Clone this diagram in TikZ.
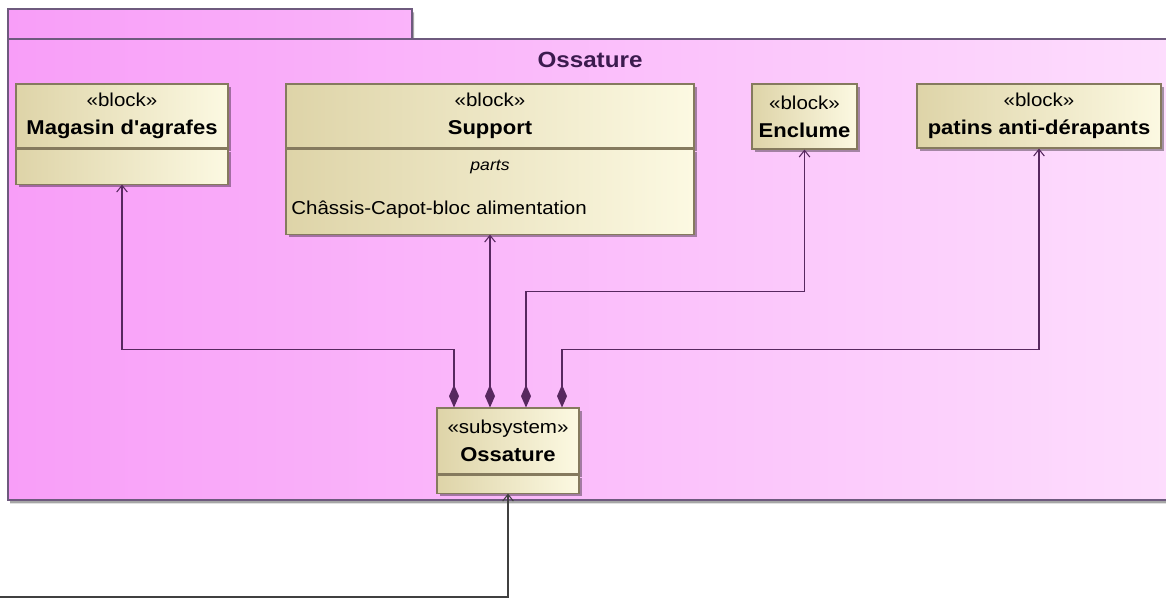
\documentclass[tikz,border=0pt]{standalone}
\usepackage{fontspec}
\setmainfont{Liberation Sans}[FakeStretch=1.1, Ligatures=TeXOff]
\usetikzlibrary{arrows.meta, shapes, positioning, shadows, calc}
\definecolor{pinkL}{HTML}{F89EF8}
\definecolor{pinkR}{HTML}{FDDDFD}
\definecolor{pkgline}{HTML}{6E5A7E}
\definecolor{blockL}{HTML}{DED4A8}
\definecolor{blockR}{HTML}{FCF9E2}
\definecolor{blockline}{HTML}{857A5E}
\definecolor{linkpurple}{HTML}{57285F}
\definecolor{titlepurple}{HTML}{3B1B4E}
\newcommand{\blockname}[1]{{\bfseries\fontsize{15}{21}\selectfont #1}}

\begin{document}
\begin{tikzpicture}[x=0.75pt, y=-0.75pt,
	blockhead/.style={shape=rectangle, draw=blockline, line width=0.8pt,
		left color=blockL, right color=blockR, align=center, inner sep=0pt,
		minimum height=48pt, font=\fontsize{14}{21}\selectfont,
		drop shadow={shadow xshift=2.5pt, shadow yshift=-2.5pt, opacity=0.35, fill=black}},
	blockpart/.style={shape=rectangle, draw=blockline, line width=0.8pt,
		left color=blockL, right color=blockR, inner sep=0pt,
		drop shadow={shadow xshift=2.5pt, shadow yshift=-2.5pt, opacity=0.35, fill=black}},
	comp/.style={draw=linkpurple, line width=1.4pt,
		{Diamond[length=17pt,width=7.5pt]}-{Straight Barb[length=5pt,width=8pt,line width=0.8pt]}},
	dep/.style={draw=black!75, line width=1pt, -{Straight Barb[length=5pt,width=8pt,line width=0.8pt]}}]

	\useasboundingbox (0,0) rectangle (1166,599);

	\path[draw=pkgline, line width=1.2pt, left color=pinkL, right color=pinkR,
		drop shadow={shadow xshift=1.5pt, shadow yshift=-2.5pt, opacity=0.35, fill=black}]
		(8,9) -- (412,9) -- (412,39) -- (1168,39) -- (1168,500) -- (8,500) -- cycle;
	\draw[pkgline, line width=1.2pt] (8,39) -- (412,39);
	\node[font=\bfseries\fontsize{16.5}{20}\selectfont, text=titlepurple] (pkgTitle) at (590,60) {Ossature};

	\node[blockhead, minimum width=159pt] (mag) at (122,116) {«block»\\\blockname{Magasin d'agrafes}};
	\node[blockpart, minimum width=159pt, minimum height=26.25pt, below=0pt of mag] (magP) {};

	\node[blockhead, minimum width=306pt] (sup) at (490,116) {«block»\\\blockname{Support}};
	\node[blockpart, minimum width=306pt, minimum height=63.75pt, below=0pt of sup] (supP) {};
	\node[font=\itshape\fontsize{12}{14}\selectfont] (supTitle) at (490,167) {parts};
	\node[anchor=west, inner sep=0pt, font=\fontsize{14}{16}\selectfont] (supItem) at (291,210) {Châssis-Capot-bloc alimentation};

	\node[blockhead, minimum width=78.75pt, minimum height=48.75pt] (enc) at (804.5,116.5) {«block»\\\blockname{Enclume}};

	\node[blockhead, minimum width=183pt] (pat) at (1039,116) {«block»\\\blockname{patins anti-dérapants}};

	\node[blockhead, minimum width=106.5pt, minimum height=49.5pt] (sub) at (508,441) {«subsystem»\\\blockname{Ossature}};
	\node[blockpart, minimum width=106.5pt, minimum height=13.5pt, below=0pt of sub] (subP) {};

	\draw[comp] ($(sub.north)+(-54,0)$) -- ++(0,-58) -| (magP.south);
	\draw[comp] (sub.north -| supP.south) -- (supP.south);
	\draw[comp] ($(sub.north)+(18,0)$) -- ++(0,-116) -| (enc.south);
	\draw[comp] ($(sub.north)+(54,0)$) -- ++(0,-58) -| (pat.south);

	\coordinate (ext) at (0,597);
	\draw[dep] (ext) -| (subP.south);
\end{tikzpicture}
\end{document}
